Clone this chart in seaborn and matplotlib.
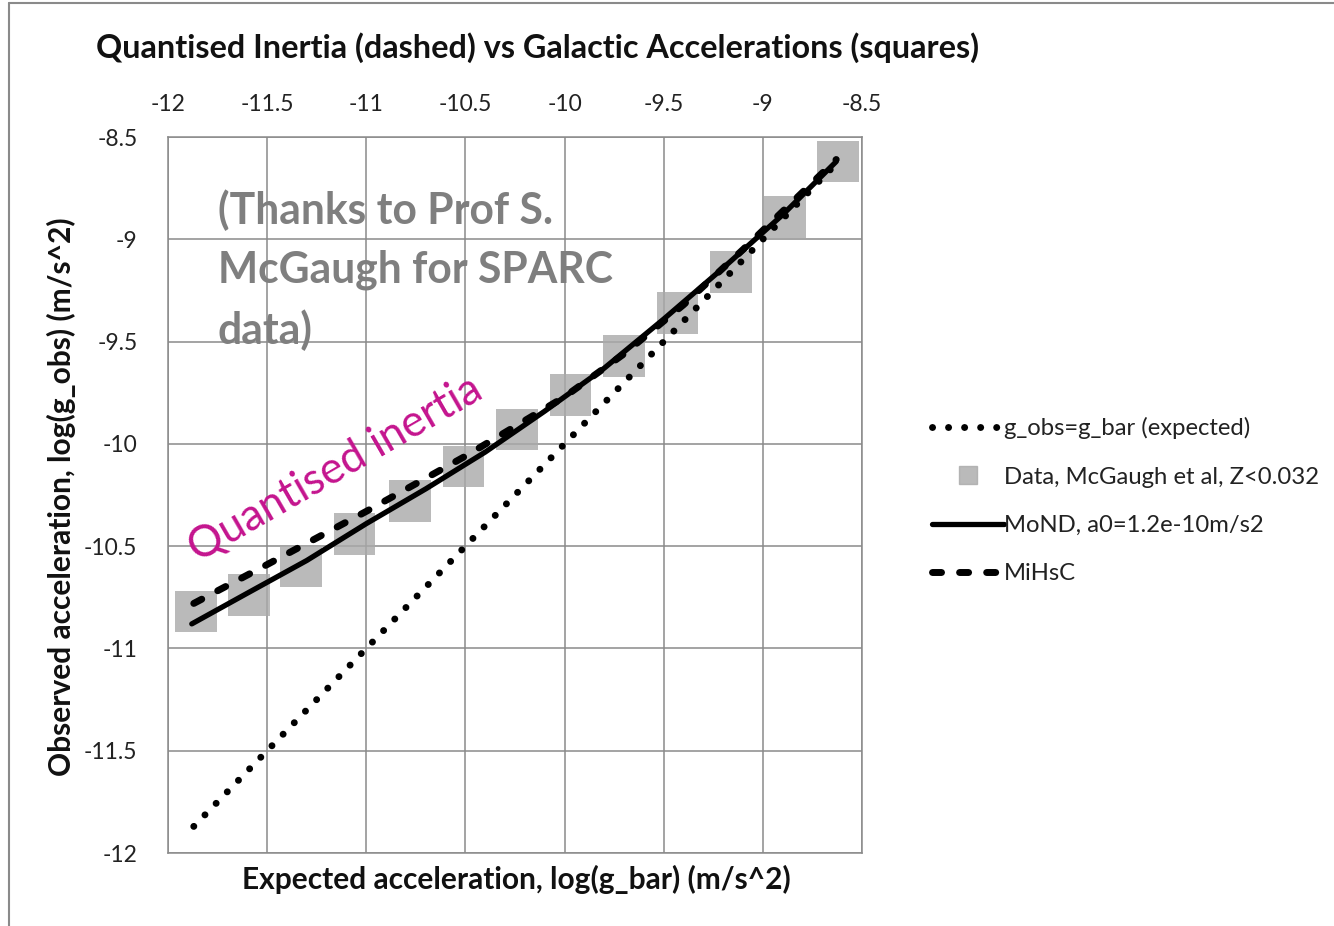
import matplotlib
matplotlib.use("Agg")
import matplotlib.pyplot as plt
from matplotlib.lines import Line2D
import seaborn as sns
import pandas as pd

# ---- data ----
data_x = [-11.86, -11.59, -11.33, -11.06, -10.78, -10.51, -10.24, -9.97, -9.70, -9.43, -9.16, -8.89, -8.62]
data_y = [-10.82, -10.74, -10.60, -10.44, -10.28, -10.11, -9.93, -9.76, -9.57, -9.36, -9.16, -8.89, -8.62]

exp_x = [-11.87, -8.62]
exp_y = [-11.87, -8.62]

mond_x = [-11.88, -11.6, -11.3, -11.0, -10.7, -10.4, -10.1, -9.8, -9.5, -9.2, -8.9, -8.63]
mond_y = [-10.88, -10.73, -10.57, -10.39, -10.22, -10.04, -9.84, -9.63, -9.39, -9.14, -8.88, -8.62]

mihsc_x = [-11.87, -11.5, -11.0, -10.5, -10.0, -9.7, -9.4, -9.1, -8.8, -8.63]
mihsc_y = [-10.78, -10.59, -10.33, -10.06, -9.77, -9.56, -9.32, -9.05, -8.77, -8.61]

x_ticks = [-12, -11.5, -11, -10.5, -10, -9.5, -9, -8.5]
y_ticks = [-8.5, -9, -9.5, -10, -10.5, -11, -11.5, -12]

legend_labels = ["g_obs=g_bar (expected)", "Data, McGaugh et al, Z<0.032",
                 "MoND, a0=1.2e-10m/s2", "MiHsC"]

sns.set_theme(style="white")
plt.rcParams['font.family'] = ['Lato', 'DejaVu Sans']

W, H = 1334, 926
fig = plt.figure(figsize=(W / 100, H / 100), dpi=100)
ax = fig.add_axes([168 / W, 1 - 853 / H, (862 - 168) / W, (853 - 137) / H])

df_data = pd.DataFrame({"x": data_x, "y": data_y})
df_exp = pd.DataFrame({"x": exp_x, "y": exp_y})
df_mond = pd.DataFrame({"x": mond_x, "y": mond_y})
df_mihsc = pd.DataFrame({"x": mihsc_x, "y": mihsc_y})

sq_color = "#a9a9a9"
sns.scatterplot(data=df_data, x="x", y="y", marker="s", s=900, color=sq_color,
                alpha=0.8, edgecolor="none", linewidth=0, ax=ax, zorder=2)
sns.lineplot(data=df_exp, x="x", y="y", sort=False, estimator=None, color="black",
             lw=5.0, linestyle=(0, (0.01, 2.3)), dash_capstyle="round", ax=ax, zorder=3)
sns.lineplot(data=df_mond, x="x", y="y", sort=False, estimator=None, color="black",
             lw=3.8, ax=ax, zorder=4)
sns.lineplot(data=df_mihsc, x="x", y="y", sort=False, estimator=None, color="black",
             lw=5.0, linestyle=(0, (1.3, 2.6)), dash_capstyle="round", ax=ax, zorder=5)

ax.set_xlim(-12, -8.5)
ax.set_ylim(-12, -8.5)
ax.set_xticks(x_ticks)
ax.set_yticks(y_ticks)
ax.set_xticklabels([f"{t:g}" for t in x_ticks])
ax.set_yticklabels([f"{t:g}" for t in y_ticks])
ax.xaxis.tick_top()
ax.xaxis.set_label_position("bottom")
ax.tick_params(axis="both", length=0, labelsize=16.5, colors="#222222")
ax.tick_params(axis="x", pad=16)
ax.tick_params(axis="y", pad=22)
ax.grid(True, color="#8a8a8a", lw=1.1)
for sp in ax.spines.values():
    sp.set_color("#8a8a8a")
    sp.set_linewidth(1.1)

ax.set_xlabel("Expected acceleration, log(g_bar) (m/s^2)", fontsize=21.5,
              fontweight="bold", color="#111111")
ax.set_ylabel("Observed acceleration, log(g_obs) (m/s^2)", fontsize=21.5,
              fontweight="bold", color="#111111")
ax.xaxis.set_label_coords(0.502, -0.016)
ax.yaxis.set_label_coords(-0.133, 0.497)

fig.text(538 / W, 1 - 48 / H, "Quantised Inertia (dashed) vs Galactic Accelerations (squares)",
         ha="center", va="center", fontsize=23.3, fontweight="bold", color="#111111")

ax.text(-11.75, -8.755, "(Thanks to Prof S.\nMcGaugh for SPARC\ndata)", ha="left", va="top",
        fontsize=30.7, fontweight="bold", color="#7f7f7f", linespacing=1.57, zorder=6)
ax.text(-11.155, -10.12, "Quantised inertia", rotation=30, rotation_mode="anchor",
        ha="center", va="center", fontsize=31.5, color="#c4148e", zorder=6)

handles = [
    Line2D([], [], color="black", lw=5.0, linestyle=(0, (0.01, 2.3)), dash_capstyle="round"),
    Line2D([], [], color=sq_color, marker="s", markersize=13, linestyle="none", alpha=0.8),
    Line2D([], [], color="black", lw=3.8),
    Line2D([], [], color="black", lw=5.0, linestyle=(0, (1.3, 2.6)), dash_capstyle="round"),
]
fig.legend(handles, legend_labels, loc="upper left", bbox_to_anchor=(920 / W, 1 - 405 / H),
           frameon=False, fontsize=17.2, handlelength=3.0, handletextpad=0.0,
           labelspacing=1.15, borderpad=0, labelcolor="#222222")

# outer chart border (left and top)
fig.add_artist(Line2D([9 / W, 9 / W], [0, 1 - 3 / H], transform=fig.transFigure,
                      color="#8a8a8a", lw=1.5))
fig.add_artist(Line2D([9 / W, 1], [1 - 3 / H, 1 - 3 / H], transform=fig.transFigure,
                      color="#8a8a8a", lw=1.5))

fig.savefig("out.png", dpi=100)
